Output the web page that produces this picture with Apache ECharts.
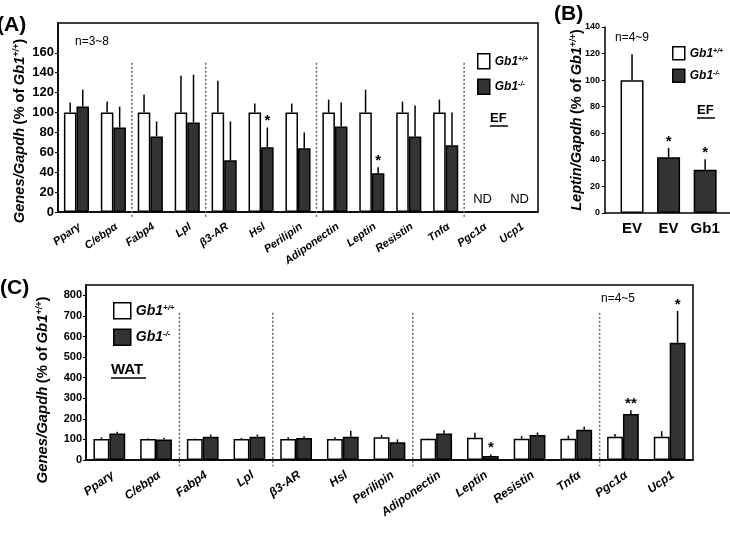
<!DOCTYPE html>
<html>
<head>
<meta charset="utf-8">
<script src="https://cdn.jsdelivr.net/npm/echarts@6/dist/echarts.min.js"></script>
<style>
  html, body { margin: 0; padding: 0; background: #fff; }
  #chart { width: 730px; height: 534px; }
</style>
</head>
<body>
<div id="chart"></div>
<script>
// gene names, shared by panel A and C
const genes = ['Pparγ', 'C/ebpα', 'Fabp4', 'Lpl', 'β3-AR', 'Hsl', 'Perilipin',
  'Adiponectin', 'Leptin', 'Resistin', 'Tnfα', 'Pgc1α', 'Ucp1'];
// group separators (category boundaries)
const groupSeps = [2, 4, 7, 11];

// (A) EF
const efWt = [100, 100, 100, 100, 100, 100, 100, 100, 100, 100, 100, null, null];
const efWtErr = [110, 111, 118, 137, 132, 109, 109, 113, 123, 111, 113, null, null];
const efKo = [106, 85, 76, 90, 52, 65, 64, 86, 39, 76, 67, null, null];
const efKoErr = [123, 106, 91, 138, 91, 85, 80, 110, 45, 107, 100, null, null];
const efStars = ['', '', '', '', '', '*', '', '', '*', '', '', '', ''];
const efNotes = ['', '', '', '', '', '', '', '', '', '', '', 'ND', 'ND'];
const efTicks = [0, 20, 40, 60, 80, 100, 120, 140, 160];

// (B) Leptin in EF
const bCats = ['EV', 'EV', 'Gb1'];
const bGroup = ['wt', 'ko', 'ko'];
const bVals = [100, 42, 32.5];
const bErr = [119.5, 49, 40.5];
const bStars = ['', '*', '*'];

// (C) WAT
const watWt = [102, 102, 102, 102, 102, 102, 110, 103, 108, 103, 103, 113, 113];
const watWtErr = [110, 105, 105, 107, 110, 110, 121, 105, 132, 116, 118, 126, 140];
const watKo = [129, 100, 113, 113, 107, 113, 86, 129, 19, 121, 147, 223, 570];
const watKoErr = [137, 108, 124, 124, 115, 142, 100, 145, 27, 134, 162, 242, 724];
const watStars = ['', '', '', '', '', '', '', '', '*', '', '', '**', '*'];
const watTicks = [0, 100, 200, 300, 400, 500, 600, 700, 800];

const FONT = 'Liberation Sans';
const WT = { color: '#fff', borderColor: '#000', borderWidth: 1.5 };
const KO = { color: '#333', borderColor: '#000', borderWidth: 1.5 };
const noStars = genes.map(() => '');

const legendRich = (size) => ({
  b: { fontFamily: FONT, fontSize: size, fontWeight: 'bold', fontStyle: 'italic', color: '#000' },
  s: { fontFamily: FONT, fontSize: Math.round(size * 0.6), fontWeight: 'bold', fontStyle: 'italic', color: '#000', verticalAlign: 'top' }
});
const legendName = name => name === 'wt' ? '{b|Gb1}{s|+/+}' : '{b|Gb1}{s|-/-}';

const nameRich = size => ({
  i: { fontFamily: FONT, fontSize: size, fontWeight: 'bold', fontStyle: 'italic', color: '#000' },
  n: { fontFamily: FONT, fontSize: size, fontWeight: 'bold', color: '#000' },
  s: { fontFamily: FONT, fontSize: Math.round(size * 0.6), fontWeight: 'bold', fontStyle: 'italic', color: '#000', verticalAlign: 'top' }
});

// vertical error line (no cap) + optional star above it
function errSeries(xi, yi, vals, errs, stars, side, frac) {
  const rows = [];
  vals.forEach((v, i) => { if (v != null) rows.push([i, v, errs[i]]); });
  const rowStars = [];
  vals.forEach((v, i) => { if (v != null) rowStars.push(stars[i]); });
  return {
    type: 'custom', xAxisIndex: xi, yAxisIndex: yi, silent: true, z: 5,
    data: rows,
    renderItem(params, api) {
      const bw = api.size([1, 0])[0];
      const lo = api.coord([api.value(0), api.value(1)]);
      const hi = api.coord([api.value(0), api.value(2)]);
      const x = lo[0] + side * bw * frac;
      const star = rowStars[params.dataIndex];
      const children = [{
        type: 'line',
        shape: { x1: x, y1: lo[1], x2: x, y2: hi[1] },
        style: { stroke: '#000', lineWidth: 1.5 }
      }];
      if (star) {
        children.push({
          type: 'text',
          style: { text: star, x: x, y: hi[1] + 1, align: 'center', verticalAlign: 'bottom',
            font: 'bold 15px ' + FONT, fill: '#000' }
        });
      }
      return { type: 'group', children };
    }
  };
}

function sepSeries(xi, yi, top, bottom) {
  return groupSeps.map(s => ({
    type: 'line', xAxisIndex: xi, yAxisIndex: yi, silent: true, clip: false,
    symbol: 'none', z: 1,
    lineStyle: { color: '#666', width: 1.5, type: [2, 2] },
    data: [[s, top], [s, bottom]]
  }));
}

const xLabel = size => ({ interval: 0, rotate: 35, margin: 9, color: '#000', fontSize: size,
  fontWeight: 'bold', fontStyle: 'italic', verticalAlign: 'top' });

const chart = echarts.init(document.getElementById('chart'));
chart.setOption({
  animation: false,
  backgroundColor: '#fff',
  textStyle: { fontFamily: FONT },
  grid: [
    { left: 58, top: 23, width: 480, height: 189, show: true, borderColor: '#000', borderWidth: 1.5 },
    { left: 605, top: 27, width: 125, height: 186 },
    { left: 86, top: 285, width: 607, height: 175, show: true, borderColor: '#000', borderWidth: 1.5 }
  ],
  legend: [
    { data: ['wt', 'ko'], orient: 'vertical', left: 472, top: 48, icon: 'rect', itemWidth: 12, itemHeight: 15,
      itemGap: 9, selectedMode: false, formatter: legendName,
      itemStyle: { borderColor: '#000', borderWidth: 1.5 },
      textStyle: { rich: legendRich(12) } },
    { data: ['wt', 'ko'], orient: 'vertical', left: 667, top: 41, icon: 'rect', itemWidth: 12, itemHeight: 13,
      itemGap: 8, selectedMode: false, formatter: legendName,
      itemStyle: { borderColor: '#000', borderWidth: 1.5 },
      textStyle: { rich: legendRich(12) } },
    { data: ['wt', 'ko'], orient: 'vertical', left: 108, top: 297, icon: 'rect', itemWidth: 17, itemHeight: 16,
      itemGap: 9, selectedMode: false, formatter: legendName,
      itemStyle: { borderColor: '#000', borderWidth: 1.5 },
      textStyle: { rich: legendRich(14) } }
  ],
  xAxis: [
    { type: 'category', gridIndex: 0, data: genes,
      axisLine: { lineStyle: { color: '#000', width: 1.5 } }, axisTick: { show: false },
      axisLabel: xLabel(11) },
    { type: 'value', gridIndex: 0, min: 0, max: 13, show: false },
    { type: 'value', gridIndex: 1, min: -0.74, max: 2.68,
      axisLine: { onZero: false, lineStyle: { color: '#000', width: 1.5 } }, axisTick: { show: false },
      splitLine: { show: false },
      axisLabel: { customValues: [0, 1, 2], formatter: v => bCats[v], color: '#000',
        fontSize: 15, fontWeight: 'bold', margin: 8 } },
    { type: 'category', gridIndex: 2, data: genes,
      axisLine: { lineStyle: { color: '#000', width: 1.5 } }, axisTick: { show: false },
      axisLabel: xLabel(12) },
    { type: 'value', gridIndex: 2, min: 0, max: 13, show: false }
  ],
  yAxis: [
    { type: 'value', gridIndex: 0, min: 0, max: 190,
      name: '{i|Genes/Gapdh} {n|(% of} {i|Gb1}{s|+/+}{n|)}', nameLocation: 'middle', nameGap: 31,
      nameMoveOverlap: false,
      nameTextStyle: { rich: nameRich(14.7), padding: [0, 27, 0, 0] },
      axisLine: { show: true, lineStyle: { color: '#000', width: 1.5 } },
      axisTick: { show: true, length: 3, customValues: efTicks, lineStyle: { color: '#000' } },
      splitLine: { show: false },
      axisLabel: { customValues: efTicks, color: '#000', fontSize: 13, fontWeight: 'bold', margin: 4 } },
    { type: 'value', gridIndex: 1, min: 0, max: 140, interval: 20,
      name: '{i|Leptin/Gapdh} {n|(% of} {i|Gb1}{s|+/+}{n|)}', nameLocation: 'middle', nameGap: 21,
      nameMoveOverlap: false,
      nameTextStyle: { rich: nameRich(14.5) },
      axisLine: { show: true, onZero: false, lineStyle: { color: '#000', width: 1.5 } },
      axisTick: { show: true, length: 3, lineStyle: { color: '#000' } },
      splitLine: { show: false },
      axisLabel: { color: '#000', fontSize: 9, fontWeight: 'bold', margin: 5 } },
    { type: 'value', gridIndex: 2, min: 0, max: 850,
      name: '{i|Genes/Gapdh} {n|(% of} {i|Gb1}{s|+/+}{n|)}', nameLocation: 'middle', nameGap: 36,
      nameMoveOverlap: false,
      nameTextStyle: { rich: nameRich(14.9), padding: [0, 35, 0, 0] },
      axisLine: { show: true, lineStyle: { color: '#000', width: 1.5 } },
      axisTick: { show: true, length: 3, customValues: watTicks, lineStyle: { color: '#000' } },
      splitLine: { show: false },
      axisLabel: { customValues: watTicks, color: '#000', fontSize: 11, fontWeight: 'bold', margin: 4 } }
  ],
  series: [
    // panel A
    { name: 'wt', type: 'bar', xAxisIndex: 0, yAxisIndex: 0, data: efWt, barWidth: '34%', barGap: '0%', itemStyle: WT },
    { name: 'ko', type: 'bar', xAxisIndex: 0, yAxisIndex: 0, data: efKo, barWidth: '34%', barGap: '0%', itemStyle: KO },
    errSeries(0, 0, efWt, efWtErr, noStars, -1, 0.17),
    errSeries(0, 0, efKo, efKoErr, efStars, 1, 0.17),
    ...sepSeries(1, 0, 150, -5),
    {
      type: 'custom', xAxisIndex: 0, yAxisIndex: 0, silent: true,
      data: efNotes.map((t, i) => [i, 0]).filter((r, i) => efNotes[i]),
      renderItem(params, api) {
        const p = api.coord([api.value(0), 0]);
        return { type: 'text', style: { text: 'ND', x: p[0], y: p[1] - 6, align: 'center',
          verticalAlign: 'bottom', font: '13px ' + FONT, fill: '#000' } };
      }
    },
    // panel B
    { name: 'leptin', type: 'bar', xAxisIndex: 2, yAxisIndex: 1, barWidth: 23,
      data: bVals.map((v, i) => ({ value: [i, v], itemStyle: bGroup[i] === 'wt' ? WT : KO })) },
    errSeries(2, 1, bVals, bErr, bStars, 0, 0),
    // panel C
    { name: 'wt', type: 'bar', xAxisIndex: 3, yAxisIndex: 2, data: watWt, barWidth: '34%', barGap: '0%', itemStyle: WT },
    { name: 'ko', type: 'bar', xAxisIndex: 3, yAxisIndex: 2, data: watKo, barWidth: '34%', barGap: '0%', itemStyle: KO },
    errSeries(3, 2, watWt, watWtErr, noStars, -1, 0.17),
    errSeries(3, 2, watKo, watKoErr, watStars, 1, 0.17),
    ...sepSeries(4, 2, 715, -30)
  ],
  graphic: [
    { type: 'text', left: -3, top: 15, style: { text: '(A)', font: 'bold 21px ' + FONT, fill: '#000' } },
    { type: 'text', left: 554, top: 4, style: { text: '(B)', font: 'bold 21px ' + FONT, fill: '#000' } },
    { type: 'text', left: 0, top: 278, style: { text: '(C)', font: 'bold 21px ' + FONT, fill: '#000' } },
    { type: 'text', left: 75, top: 36, style: { text: 'n=3~8', font: '12px ' + FONT, fill: '#000' } },
    { type: 'text', left: 615, top: 32, style: { text: 'n=4~9', font: '12px ' + FONT, fill: '#000' } },
    { type: 'text', left: 601, top: 293, style: { text: 'n=4~5', font: '12px ' + FONT, fill: '#000' } },
    { type: 'text', left: 490, top: 112, style: { text: 'EF', font: 'bold 13px ' + FONT, fill: '#000' } },
    { type: 'line', shape: { x1: 490, y1: 126, x2: 508, y2: 126 }, style: { stroke: '#000', lineWidth: 1.5 } },
    { type: 'text', left: 697, top: 104, style: { text: 'EF', font: 'bold 13px ' + FONT, fill: '#000' } },
    { type: 'line', shape: { x1: 697, y1: 118, x2: 715, y2: 118 }, style: { stroke: '#000', lineWidth: 1.5 } },
    { type: 'text', left: 111, top: 362, style: { text: 'WAT', font: 'bold 15px ' + FONT, fill: '#000' } },
    { type: 'line', shape: { x1: 111, y1: 378, x2: 146, y2: 378 }, style: { stroke: '#000', lineWidth: 1.5 } }
  ]
});
</script>
</body>
</html>
